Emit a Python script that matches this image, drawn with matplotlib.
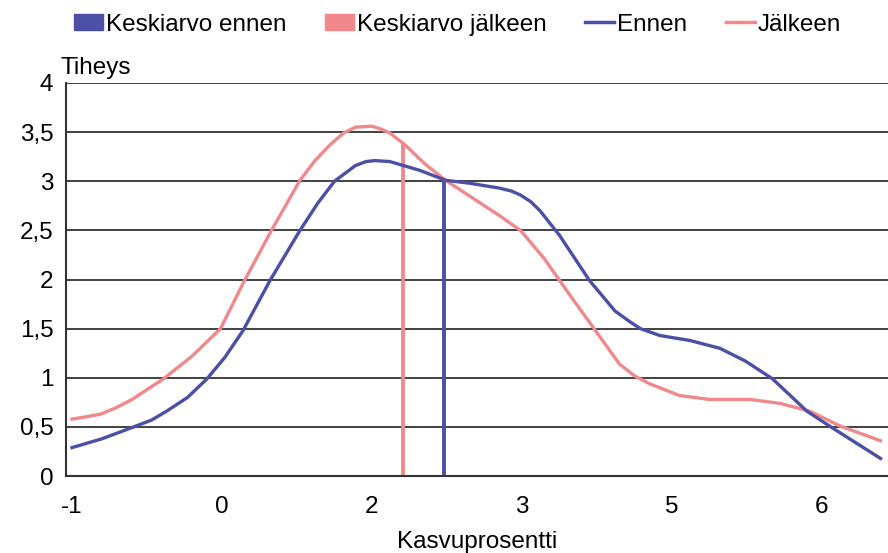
import matplotlib.pyplot as plt
from matplotlib.patches import Patch
from matplotlib.lines import Line2D

plt.rcParams['font.family'] = ['Liberation Sans', 'DejaVu Sans']

BLUE = "#4b4fa6"
PINK = "#f0888c"
FS = 17.5

# x in tick-slot units (slot i <-> label xtick_labels[i])
xtick_pos = [0, 1, 2, 3, 4, 5]
xtick_labels = ["-1", "0", "2", "3", "5", "6"]
ytick_pos = [0, 0.5, 1, 1.5, 2, 2.5, 3, 3.5, 4]
ytick_labels = ["0", "0,5", "1", "1,5", "2", "2,5", "3", "3,5", "4"]

ennen_x = [0.0, 0.2, 0.41, 0.53, 0.63, 0.77, 0.9, 1.02, 1.14, 1.32, 1.52, 1.64, 1.75, 1.89,
           1.96, 2.02, 2.12, 2.32, 2.49, 2.65, 2.85, 2.93, 2.99, 3.06, 3.12, 3.25, 3.45,
           3.62, 3.72, 3.79, 3.92, 4.12, 4.32, 4.49, 4.67, 4.9, 5.07, 5.39]
ennen_y = [0.29, 0.38, 0.50, 0.57, 0.66, 0.80, 0.99, 1.21, 1.48, 1.99, 2.50, 2.78, 3.00, 3.16,
           3.20, 3.21, 3.20, 3.11, 3.01, 2.98, 2.93, 2.90, 2.86, 2.79, 2.70, 2.45, 1.99,
           1.68, 1.57, 1.50, 1.43, 1.38, 1.30, 1.17, 0.99, 0.66, 0.49, 0.18]

jalkeen_x = [0.0, 0.08, 0.19, 0.30, 0.40, 0.61, 0.80, 0.99, 1.15, 1.33, 1.52, 1.62, 1.72, 1.81,
             1.89, 2.0, 2.06, 2.12, 2.22, 2.35, 2.49, 2.65, 2.85, 2.99, 3.15, 3.32, 3.49,
             3.65, 3.75, 3.85, 4.05, 4.25, 4.52, 4.72, 4.92, 5.12, 5.39]
jalkeen_y = [0.58, 0.60, 0.63, 0.70, 0.78, 0.99, 1.22, 1.50, 1.99, 2.50, 3.01, 3.21, 3.37, 3.49,
             3.55, 3.56, 3.53, 3.49, 3.37, 3.18, 3.01, 2.85, 2.65, 2.50, 2.21, 1.84, 1.48,
             1.14, 1.02, 0.94, 0.82, 0.78, 0.78, 0.74, 0.66, 0.51, 0.36]

mean_ennen = (2.48, 3.01)
mean_jalkeen = (2.21, 3.37)

fig = plt.figure(figsize=(8.88, 5.53), dpi=100)
ax = fig.add_axes([0.0743, 0.139, 0.9257, 0.711])

for y in ytick_pos[1:]:
    ax.axhline(y, color="#333333", lw=1.3, zorder=1)

ax.plot([mean_jalkeen[0]] * 2, [0, mean_jalkeen[1]], color=PINK, lw=2.8, zorder=2)
ax.plot([mean_ennen[0]] * 2, [0, mean_ennen[1]], color=BLUE, lw=2.8, zorder=2)
ax.plot(jalkeen_x, jalkeen_y, color=PINK, lw=2.4, zorder=3, solid_joinstyle="round")
ax.plot(ennen_x, ennen_y, color=BLUE, lw=2.4, zorder=4, solid_joinstyle="round")

ax.set_xlim(-0.04, 5.44)
ax.set_ylim(0, 4)
ax.set_xticks(xtick_pos)
ax.set_xticklabels(xtick_labels, fontsize=FS)
ax.set_yticks(ytick_pos)
ax.set_yticklabels(ytick_labels, fontsize=FS)
ax.tick_params(length=0, pad=9)
ax.tick_params(axis="x", pad=14)
for s in ["top", "right"]:
    ax.spines[s].set_visible(False)
for s in ["left", "bottom"]:
    ax.spines[s].set_color("#333333")
    ax.spines[s].set_linewidth(1.5)

ax.set_xlabel("Kasvuprosentti", fontsize=FS, labelpad=10)
fig.text(0.068, 0.857, "Tiheys", fontsize=FS, ha="left", va="bottom")

handles = [
    Patch(color=BLUE),
    Patch(color=PINK),
    Line2D([0], [0], color=BLUE, lw=2.5),
    Line2D([0], [0], color=PINK, lw=2.5),
]
labels = ["Keskiarvo ennen", "Keskiarvo jälkeen", "Ennen", "Jälkeen"]
fig.legend(handles, labels, loc="upper center", bbox_to_anchor=(0.515, 1.015), ncol=4,
           frameon=False, fontsize=FS, handlelength=1.2, handleheight=0.6,
           handletextpad=0.1, columnspacing=1.6)

fig.savefig("out.png", dpi=100)
